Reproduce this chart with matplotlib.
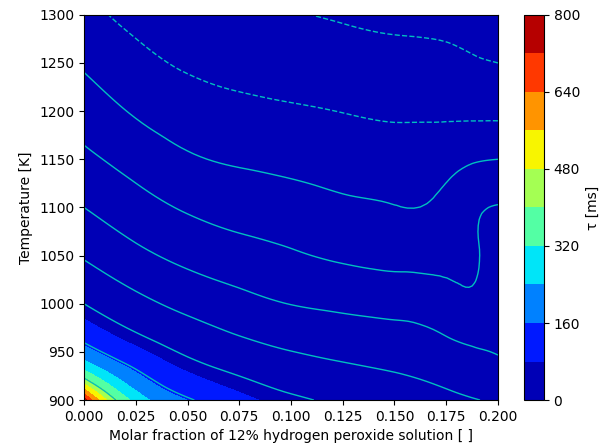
import numpy as np
import matplotlib
matplotlib.use('Agg')
import matplotlib.pyplot as plt
import matplotlib.tri as mtri

# grid of the ignition delay map
x_frac = [0.0, 0.025, 0.05, 0.075, 0.1, 0.125, 0.15, 0.175, 0.1875, 0.2]
temps = [900, 925, 950, 975, 1000, 1050, 1100, 1150, 1200, 1250, 1300]
# ln(tau [ms]) per temperature row, one value per molar fraction
ln_tau = [
    [6.63, 5.67, 5.07, 4.55, 4.14, 3.82, 3.50, 3.20, 3.05, 2.88],
    [5.94, 5.16, 4.48, 4.00, 3.59, 3.31, 3.07, 2.76, 2.55, 2.38],
    [5.25, 4.54, 3.88, 3.39, 3.02, 2.78, 2.62, 2.30, 2.10, 1.96],
    [4.61, 3.88, 3.29, 2.82, 2.50, 2.29, 2.16, 1.84, 1.62, 1.81],
    [4.00, 3.29, 2.73, 2.31, 1.98, 1.80, 1.66, 1.40, 1.15, 1.66],
    [2.91, 2.24, 1.74, 1.39, 1.11, 0.86, 0.73, 0.76, 0.90, 1.35],
    [2.00, 1.39, 0.89, 0.59, 0.40, 0.17, 0.03, 0.28, 0.78, 1.05],
    [1.21, 0.62, 0.12, -0.12, -0.27, -0.44, -0.56, -0.33, -0.10, 0.00],
    [0.52, -0.10, -0.53, -0.77, -0.90, -1.02, -1.13, -1.17, -1.20, -1.22],
    [-0.12, -0.70, -1.13, -1.31, -1.43, -1.56, -1.68, -1.76, -1.90, -2.00],
    [-0.71, -1.30, -1.67, -1.80, -1.94, -2.10, -2.24, -2.36, -2.45, -2.50],
]
fill_levels = np.arange(0, 801, 80)
line_levels = np.arange(-2, 7)
cbar_ticks = [0, 160, 320, 480, 640, 800]

X, Y = np.meshgrid(x_frac, temps)
Z = np.array(ln_tau)

# smooth the coarse grid with matplotlib's own refiner
tri = mtri.Triangulation(X.ravel(), Y.ravel())
refiner = mtri.UniformTriRefiner(tri)
tri_f, z_f = refiner.refine_field(Z.ravel(), subdiv=3)

fig = plt.figure(figsize=(6.07, 4.48), dpi=100)
ax = fig.add_axes([0.1384, 0.107, 0.682, 0.860])
cax = fig.add_axes([0.863, 0.107, 0.033, 0.860])

cf = ax.tricontourf(tri_f, np.exp(z_f), levels=fill_levels, cmap='jet')
ax.tricontour(tri_f, z_f, levels=line_levels, colors='c', linewidths=1.0)

ax.set_xlim(0, 0.2)
ax.set_ylim(900, 1300)
ax.set_xlabel('Molar fraction of 12% hydrogen peroxide solution [ ]')
ax.set_ylabel('Temperature [K]')

cb = fig.colorbar(cf, cax=cax, ticks=cbar_ticks)
cb.set_label('τ [ms]')

fig.savefig('out.png', dpi=100)
